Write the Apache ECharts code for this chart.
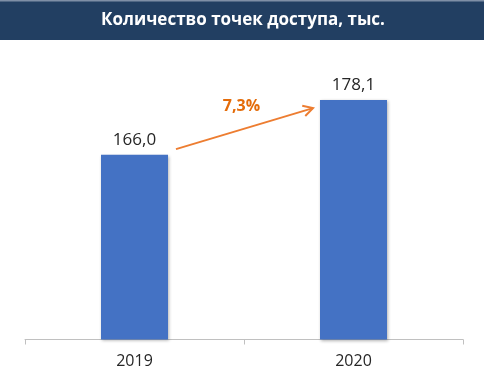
<!DOCTYPE html>
<html>
<head>
<meta charset="utf-8">
<script src="https://cdn.jsdelivr.net/npm/echarts@6/dist/echarts.min.js"></script>
<style>html,body{margin:0;padding:0;background:#fff;}#c{width:486px;height:387px;}</style>
</head>
<body>
<div id="c"></div>
<script>
const titleText = 'Количество точек доступа, тыс.';
const categories = ['2019', '2020'];
const values = [166.0, 178.1];
const valueLabels = ['166,0', '178,1'];
const growthLabel = '7,3%';

const chart = echarts.init(document.getElementById('c'), null, {renderer: 'canvas'});
const font = '"Open Sans", "DejaVu Sans", sans-serif';
chart.setOption({
  animation: false,
  grid: {left: 25, right: 23, top: 69, bottom: 47.5},
  xAxis: {
    type: 'category',
    data: categories,
    axisLine: {lineStyle: {color: '#c0c0c0', width: 1}},
    axisTick: {show: true, length: 5, lineStyle: {color: '#c0c0c0'}},
    axisLabel: {color: '#262626', fontSize: 16, fontFamily: font, margin: 14}
  },
  yAxis: {
    type: 'value', min: 125, max: 185,
    show: false, splitLine: {show: false}
  },
  series: [{
    type: 'bar',
    data: values,
    barWidth: 67,
    itemStyle: {color: '#4472c4', shadowBlur: 3, shadowColor: 'rgba(0,0,0,0.3)', shadowOffsetX: 1, shadowOffsetY: 1},
    label: {
      show: true, position: 'top', distance: 6,
      color: '#262626', fontSize: 17, fontFamily: font,
      formatter: p => valueLabels[p.dataIndex]
    }
  }]
});

const p0 = chart.convertToPixel({xAxisIndex: 0, yAxisIndex: 0}, [0, values[0]]);
const p1 = chart.convertToPixel({xAxisIndex: 0, yAxisIndex: 0}, [1, values[1]]);
const half = 33.5;
const s = [p0[0] + half + 8, p0[1] - 5.5];
const e = [p1[0] - half - 7, p1[1] + 8];
const ang = Math.atan2(e[1] - s[1], e[0] - s[0]);
const hl = 11, spread = 0.5;
const h1 = [e[0] - hl * Math.cos(ang - spread), e[1] - hl * Math.sin(ang - spread)];
const h2 = [e[0] - hl * Math.cos(ang + spread), e[1] - hl * Math.sin(ang + spread)];
const mid = [(s[0] + e[0]) / 2, (s[1] + e[1]) / 2];

chart.setOption({
  graphic: [
    {type: 'rect', shape: {x: 0, y: 0, width: 484, height: 40}, style: {fill: '#223f62'}, z: 0},
    {type: 'rect', shape: {x: 0, y: 0, width: 484, height: 1.5}, style: {fill: '#7f8fa6'}, z: 1},
    {type: 'text', x: 243, y: 20, style: {text: titleText, fill: '#ffffff', font: 'bold 17px ' + font, textAlign: 'center', textVerticalAlign: 'middle'}, z: 2},
    {type: 'line', shape: {x1: s[0], y1: s[1], x2: e[0], y2: e[1]}, style: {stroke: '#ed7d31', lineWidth: 2}, z: 5},
    {type: 'polyline', shape: {points: [h1, e, h2]}, style: {stroke: '#ed7d31', lineWidth: 2, fill: null}, z: 5},
    {type: 'text', x: mid[0] - 3, y: mid[1] - 22, style: {text: growthLabel, fill: '#e46c0a', font: 'bold 16px ' + font, textAlign: 'center', textVerticalAlign: 'middle'}, z: 5}
  ]
});
</script>
</body>
</html>
